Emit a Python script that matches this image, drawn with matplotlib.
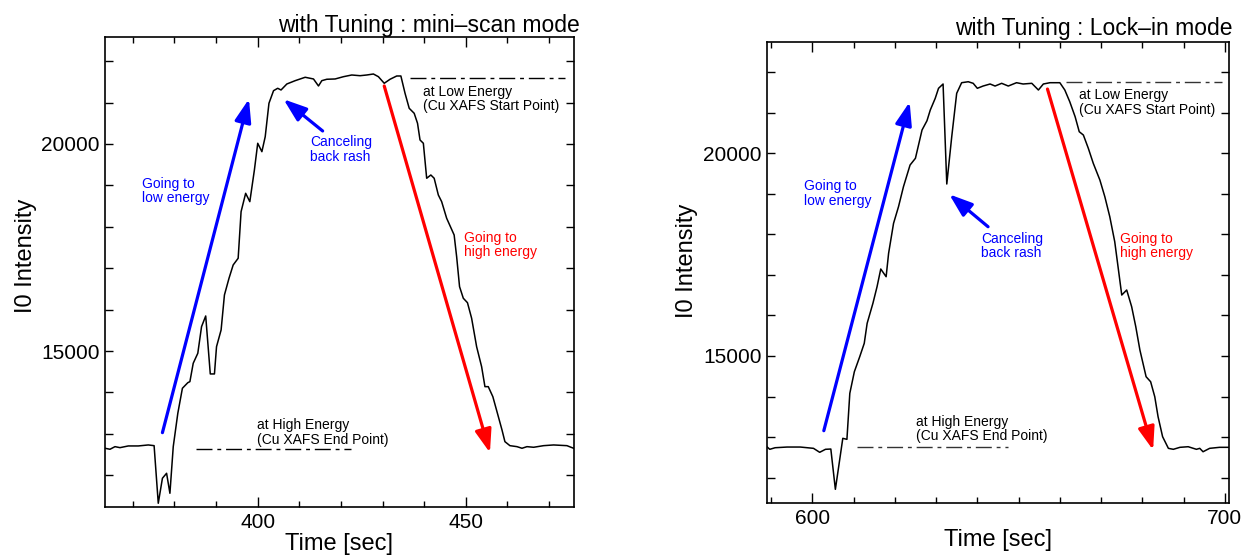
import matplotlib
matplotlib.use("Agg")
import matplotlib.pyplot as plt
from matplotlib.ticker import MultipleLocator

plt.rcParams['font.family'] = ['Liberation Sans', 'DejaVu Sans']

# mini-scan mode run (time in sec, I0 counts)
t_mini = [363.3, 364.5, 365.7, 366.9, 368.9, 371.3, 373.7, 375.1, 376.1, 377.1,
          378.1, 378.9, 379.7, 380.8, 381.9, 383.2, 383.7, 384.5, 385.6, 386.5,
          387.5, 388.6, 389.6, 390.1, 391.2, 392.0, 393.1, 394.1, 395.3, 396.0,
          397.1, 398.1, 399.2, 400.0, 401.0, 401.8, 402.7, 403.8, 404.8, 405.6,
          407.0, 409.0, 411.4, 413.4, 414.6, 415.4, 416.6, 418.6, 420.6, 422.6,
          424.6, 426.2, 427.8, 429.0, 430.4, 431.8, 433.4, 434.4, 435.4, 436.4,
          437.6, 438.4, 439.0, 439.8, 440.6, 441.6, 442.4, 443.4, 444.2, 445.4,
          447.2, 447.8, 448.5, 449.4, 450.4, 451.4, 452.6, 453.8, 454.6, 455.4,
          456.5, 457.6, 458.7, 459.4, 460.6, 462.3, 463.5, 464.7, 466.3, 468.7,
          471.1, 474.3, 475.9]
i0_mini = [12651, 12627, 12690, 12666, 12707, 12707, 12731, 12714, 11323, 11927,
           12047, 11564, 12690, 13497, 14100, 14235, 14260, 14704, 14945, 15588,
           15846, 14446, 14446, 15105, 15508, 16353, 16757, 17078, 17240, 18365,
           18809, 18607, 19372, 20017, 19814, 20176, 20983, 21287, 21345, 21304,
           21449, 21529, 21611, 21570, 21401, 21529, 21563, 21570, 21625, 21666,
           21649, 21666, 21690, 21625, 21466, 21563, 21642, 21642, 21224, 20862,
           20741, 20500, 20097, 20017, 19172, 19251, 19172, 18768, 18607, 18206,
           17802, 17278, 16554, 16274, 16167, 15791, 15105, 14622, 14139, 14139,
           13897, 13496, 13093, 12811, 12714, 12690, 12651, 12690, 12675, 12714,
           12731, 12714, 12651]

# lock-in mode run
t_lock = [589.0, 589.7, 591.0, 593.9, 597.1, 600.3, 601.8, 603.2, 604.5, 605.6,
          606.4, 607.4, 608.4, 609.1, 610.2, 611.5, 612.6, 613.3, 614.7, 615.7,
          616.6, 617.9, 618.5, 619.7, 620.9, 622.1, 623.7, 625.0, 626.6, 627.8,
          628.6, 629.8, 630.6, 631.7, 632.6, 633.8, 635.0, 636.2, 637.8, 639.0,
          640.0, 641.4, 643.1, 644.3, 645.9, 647.5, 649.5, 651.1, 653.2, 654.8,
          656.0, 657.6, 660.0, 661.2, 662.4, 663.7, 664.7, 665.7, 666.9, 668.1,
          669.7, 670.9, 672.1, 673.3, 674.1, 675.0, 676.2, 677.4, 678.4, 679.4,
          680.9, 682.0, 683.0, 683.8, 684.9, 686.3, 687.5, 689.1, 691.1, 693.1,
          693.9, 694.7, 696.3, 698.7, 700.8]
i0_lock = [12762, 12698, 12737, 12754, 12754, 12722, 12624, 12698, 12705, 11711,
           12268, 12969, 12944, 14079, 14612, 14982, 15313, 15806, 16300, 16709,
           17146, 16956, 17533, 18273, 18683, 19176, 19711, 19877, 20575, 20804,
           21068, 21357, 21604, 21710, 19243, 20410, 21480, 21742, 21766, 21727,
           21604, 21660, 21710, 21660, 21727, 21660, 21742, 21710, 21727, 21562,
           21710, 21742, 21742, 21562, 21273, 20903, 20533, 20451, 20123, 19753,
           19341, 18929, 18436, 17819, 17202, 16504, 16628, 16216, 15722, 15147,
           14489, 14365, 13995, 13502, 13009, 12722, 12698, 12747, 12762, 12698,
           12722, 12638, 12722, 12747, 12747]

titles = ["with Tuning : mini\u2013scan mode", "with Tuning : Lock\u2013in mode"]

fig = plt.figure(figsize=(12.47, 5.57), dpi=100)
ax1 = fig.add_axes([0.0842, 0.0898, 0.3761, 0.8438])
ax2 = fig.add_axes([0.6153, 0.0964, 0.3703, 0.8276])

DASH = (11.5, 3.5, 2.8, 3.5)
TXT = 10
LS = 1.05


def style(ax, xmaj, title, tx, ty):
    ax.xaxis.set_major_locator(MultipleLocator(xmaj))
    ax.xaxis.set_minor_locator(MultipleLocator(10))
    ax.yaxis.set_major_locator(MultipleLocator(5000))
    ax.yaxis.set_minor_locator(MultipleLocator(1000))
    ax.tick_params(axis='both', which='both', direction='in', top=True, right=True,
                   labelsize=15, width=1.0)
    ax.tick_params(axis='x', which='major', length=7.5, pad=4)
    ax.tick_params(axis='x', which='minor', length=4.5)
    ax.tick_params(axis='y', which='both', length=5.5, pad=4)
    for s in ax.spines.values():
        s.set_linewidth(1.2)
    ax.set_xlabel("Time [sec]", fontsize=17, labelpad=1)
    ax.set_ylabel("I0 Intensity", fontsize=17)
    ax.text(tx, ty, title, transform=ax.transAxes, ha='right', va='baseline',
            fontsize=16.5)


def arrow(ax, tail, tip, color):
    ax.annotate("", xy=tip, xytext=tail,
                arrowprops=dict(arrowstyle="-|>,head_length=1.4,head_width=0.5",
                                mutation_scale=10, lw=2.3, color=color,
                                shrinkA=0, shrinkB=0))


def note(ax, x, y, s, color='black'):
    ax.text(x, y, s, color=color, fontsize=TXT, ha='left', va='center',
            linespacing=LS)


# ---- left: mini-scan mode
ax1.plot(t_mini, i0_mini, color='black', lw=1.1)
ax1.set_xlim(363.3, 476)
ax1.set_ylim(11233, 22584)
style(ax1, 50, titles[0], 1.013, 1.011)
ax1.yaxis.set_label_coords(-0.145, 0.535)

ax1.plot([436.7, 473.9], [21587, 21587], color='black', lw=1.0, dashes=DASH)
ax1.plot([385.2, 422.3], [12627, 12627], color='black', lw=1.0, dashes=DASH)
note(ax1, 439.7, 21087, "at Low Energy\n(Cu XAFS Start Point)")
note(ax1, 399.8, 13033, "at High Energy\n(Cu XAFS End Point)")

arrow(ax1, (377.1, 13028), (397.9, 21087), 'blue')
note(ax1, 372.3, 18865, "Going to\nlow energy", 'blue')
arrow(ax1, (415.6, 20314), (406.2, 21080), 'blue')
note(ax1, 412.6, 19867, "Canceling\nback rash", 'blue')
arrow(ax1, (430.4, 21401), (455.8, 12545), 'red')
note(ax1, 449.6, 17561, "Going to\nhigh energy", 'red')

# ---- right: lock-in mode
ax2.plot(t_lock, i0_lock, color='black', lw=1.1)
ax2.set_xlim(589.1, 701)
ax2.set_ylim(11366, 22738)
style(ax2, 100, titles[1], 1.0065, 1.015)
ax2.yaxis.set_label_coords(-0.15, 0.526)

ax2.plot([661.6, 699.2], [21766, 21766], color='#333333', lw=1.0, dashes=DASH)
ax2.plot([610.8, 647.5], [12762, 12762], color='#333333', lw=1.0, dashes=DASH)
note(ax2, 664.7, 21253, "at Low Energy\n(Cu XAFS Start Point)")
note(ax2, 625.1, 13194, "at High Energy\n(Cu XAFS End Point)")

arrow(ax2, (602.8, 13157), (623.6, 21266), 'blue')
note(ax2, 597.9, 19013, "Going to\nlow energy", 'blue')
arrow(ax2, (642.6, 18189), (633.2, 18988), 'blue')
note(ax2, 641.0, 17713, "Canceling\nback rash", 'blue')
arrow(ax2, (657.0, 21586), (682.6, 12680), 'red')
note(ax2, 674.6, 17713, "Going to\nhigh energy", 'red')

fig.savefig("out.png", dpi=100)
